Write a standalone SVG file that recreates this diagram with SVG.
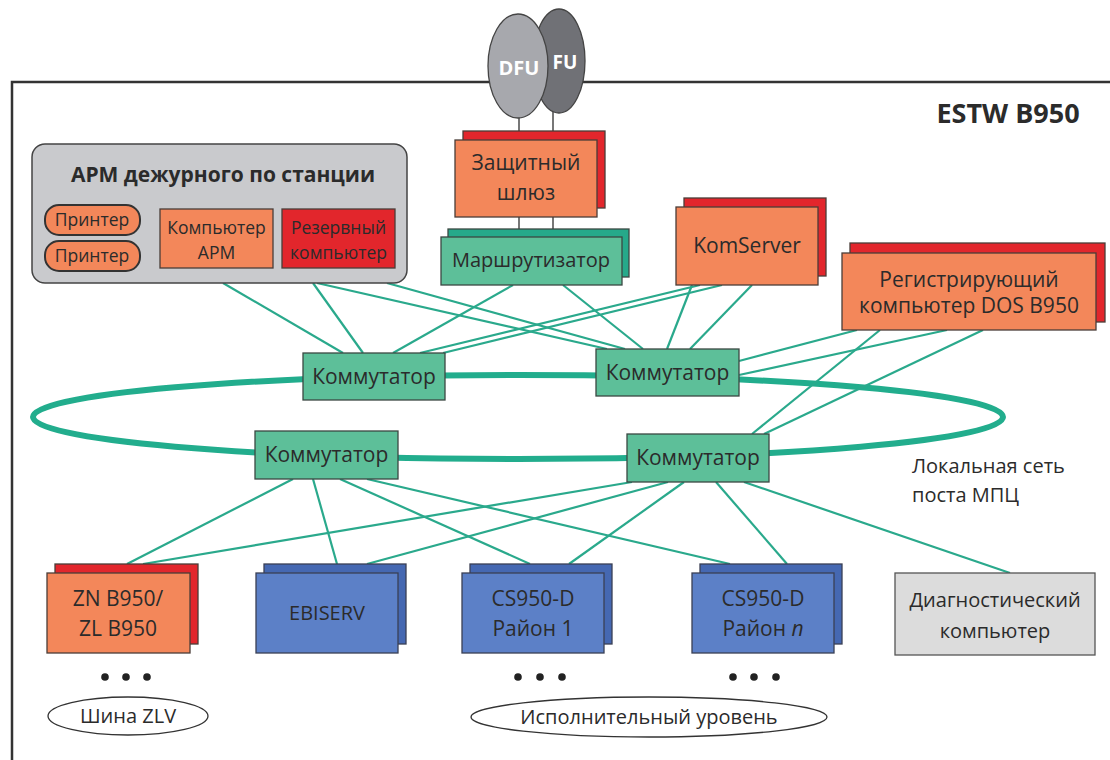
<svg xmlns="http://www.w3.org/2000/svg" width="1110" height="760" viewBox="0 0 1110 760">
<style>
text{font-family:"Open Sans","Liberation Sans",sans-serif;fill:#2b2b2b;text-anchor:middle}
.b{font-weight:bold}
.or{fill:#f3875a;stroke:#4a3d38;stroke-width:1.3}
.pl{fill:#f3875a;stroke:#333;stroke-width:2}
.rd{fill:#e2262c;stroke:#4a3d38;stroke-width:1.3}
.gr{fill:#5dbf99;stroke:#3b4843;stroke-width:1.3}
.grb{fill:#26a98a;stroke:#3b4843;stroke-width:1.3}
.bl{fill:#5c80c7;stroke:#3a3f55;stroke-width:1.3}
.blb{fill:#4568b2;stroke:#3a3f55;stroke-width:1.3}
.gy{fill:#dcdcdc;stroke:#555;stroke-width:1.3}
.ln{stroke:#2aa98c;stroke-width:2.2;fill:none}
.ring{stroke:#22ad8d;stroke-width:6;fill:none}
.dk{stroke:#555;stroke-width:2;fill:none}
.ov{fill:#fff;stroke:#333;stroke-width:1.3}
.s17{font-size:17.5px}
.s20{font-size:20px}
.s21{font-size:21px}
.s22{font-size:22px}
.dt{fill:#222}
</style>
<rect width="1110" height="760" fill="#fff"/>
<path d="M12,760 V82 H1110" fill="none" stroke="#333" stroke-width="2.5"/>
<text x="1008" y="123" class="b" style="font-size:27px">ESTW B950</text>

<g id="connectors">
<ellipse class="ring" cx="518" cy="417" rx="485" ry="42"/>
<line class="dk" x1="140" y1="220" x2="161" y2="220"/>
<line class="dk" x1="140" y1="256" x2="161" y2="256"/>
<line class="dk" x1="519" y1="100" x2="519" y2="232" style="stroke-width:1.6"/>
<line class="dk" x1="553" y1="100" x2="553" y2="232" style="stroke-width:1.6"/>
<line class="ln" x1="223" y1="283" x2="343" y2="353"/>
<line class="ln" x1="313" y1="283" x2="363" y2="353"/>
<line class="ln" x1="317" y1="283" x2="607" y2="349"/>
<line class="ln" x1="387" y1="283" x2="625" y2="349"/>
<line class="ln" x1="513" y1="285" x2="393" y2="353"/>
<line class="ln" x1="563" y1="285" x2="643" y2="349"/>
<line class="ln" x1="700" y1="285" x2="420" y2="353"/>
<line class="ln" x1="722" y1="285" x2="443" y2="353"/>
<line class="ln" x1="692" y1="285" x2="667" y2="349"/>
<line class="ln" x1="752" y1="285" x2="690" y2="349"/>
<line class="ln" x1="857" y1="330" x2="739" y2="361"/>
<line class="ln" x1="947" y1="330" x2="739" y2="375"/>
<line class="ln" x1="880" y1="330" x2="752" y2="434"/>
<line class="ln" x1="983" y1="330" x2="764" y2="434"/>
<line class="ln" x1="293" y1="479" x2="127" y2="564"/>
<line class="ln" x1="632" y1="482" x2="143" y2="564"/>
<line class="ln" x1="313" y1="479" x2="337" y2="564"/>
<line class="ln" x1="668" y1="482" x2="367" y2="564"/>
<line class="ln" x1="340" y1="479" x2="530" y2="564"/>
<line class="ln" x1="684" y1="482" x2="569" y2="564"/>
<line class="ln" x1="367" y1="479" x2="730" y2="564"/>
<line class="ln" x1="716" y1="482" x2="787" y2="564"/>
<line class="ln" x1="744" y1="482" x2="1010" y2="573"/>
</g>

<g id="dfu-fu">
<ellipse cx="559" cy="61" rx="26" ry="52" fill="#707176" stroke="#444" stroke-width="1.3"/>
<ellipse cx="518" cy="66" rx="30" ry="52" fill="#a7a8ad" stroke="#444" stroke-width="1.3"/>
<text x="519" y="75" class="b" style="fill:#fff;font-size:20px">DFU</text>
<text x="565" y="69" class="b" style="fill:#fff;font-size:19px">FU</text>
</g>

<g id="arm">
<rect x="32" y="144" width="375" height="139" rx="13" fill="#c9cacd" stroke="#444" stroke-width="1.5"/>
<text x="223" y="182" class="b s21">АРМ дежурного по станции</text>
</g>
<g id="printer1">
<rect x="45" y="205" width="95" height="30" rx="14" class="pl"/>
<text x="92" y="226" class="s17">Принтер</text>
</g>
<g id="printer2">
<rect x="45" y="241" width="95" height="30" rx="14" class="pl"/>
<text x="92" y="262" class="s17">Принтер</text>
</g>
<g id="pc-arm">
<rect x="160" y="209" width="113" height="59" class="or"/>
<text x="216.5" y="234" class="s17">Компьютер</text>
<text x="216.5" y="259" class="s17">АРМ</text>
</g>
<g id="pc-reserve">
<rect x="282" y="209" width="113" height="59" class="rd"/>
<text x="338.5" y="234" class="s17">Резервный</text>
<text x="338.5" y="259" class="s17">компьютер</text>
</g>

<g id="gateway">
<rect x="463" y="131" width="142" height="77" class="rd"/>
<rect x="455" y="140" width="142" height="77" class="or"/>
<text x="526" y="170" class="s21">Защитный</text>
<text x="526" y="200" class="s21">шлюз</text>
</g>
<g id="router">
<rect x="448" y="229" width="181" height="48" class="grb"/>
<rect x="441" y="237" width="181" height="48" class="gr"/>
<text x="531" y="267" class="s20">Маршрутизатор</text>
</g>
<g id="komserver">
<rect x="684" y="198" width="142" height="78" class="rd"/>
<rect x="676" y="207" width="142" height="78" class="or"/>
<text x="747" y="253" class="s21">KomServer</text>
</g>
<g id="dos">
<rect x="850" y="243" width="255" height="79" class="rd"/>
<rect x="842" y="253" width="254" height="77" class="or"/>
<text x="969" y="287" class="s21">Регистрирующий</text>
<text x="969" y="313" class="s21">компьютер DOS B950</text>
</g>

<g id="switch1">
<rect x="303" y="353" width="142" height="47" class="gr"/>
<text x="374" y="384" class="s21">Коммутатор</text>
</g>
<g id="switch2">
<rect x="596" y="349" width="143" height="47" class="gr"/>
<text x="667.5" y="380" class="s21">Коммутатор</text>
</g>
<g id="switch3">
<rect x="255" y="431" width="143" height="48" class="gr"/>
<text x="326.5" y="462" class="s21">Коммутатор</text>
</g>
<g id="switch4">
<rect x="627" y="434" width="142" height="48" class="gr"/>
<text x="698" y="465" class="s21">Коммутатор</text>
</g>

<text x="912" y="473" class="s20" style="text-anchor:start">Локальная сеть</text>
<text x="912" y="502" class="s20" style="text-anchor:start">поста МПЦ</text>

<g id="zn">
<rect x="55" y="564" width="143" height="80" class="rd"/>
<rect x="47" y="573" width="143" height="80" class="or"/>
<text x="118" y="606" class="s21">ZN B950/</text>
<text x="118" y="636" class="s21">ZL B950</text>
</g>
<g id="ebiserv">
<rect x="264" y="564" width="142" height="80" class="blb"/>
<rect x="256" y="573" width="142" height="80" class="bl"/>
<text x="327" y="620" class="s20">EBISERV</text>
</g>
<g id="cs1">
<rect x="470" y="564" width="142" height="80" class="blb"/>
<rect x="462" y="573" width="142" height="80" class="bl"/>
<text x="533" y="606" class="s21">CS950-D</text>
<text x="533" y="636" class="s21">Район 1</text>
</g>
<g id="csn">
<rect x="700" y="564" width="142" height="80" class="blb"/>
<rect x="692" y="573" width="142" height="80" class="bl"/>
<text x="763" y="606" class="s21">CS950-D</text>
<text x="763" y="636" class="s21">Район <tspan font-style="italic">n</tspan></text>
</g>
<g id="diag">
<rect x="895" y="573" width="200" height="82" class="gy"/>
<text x="995" y="607" class="s20">Диагностический</text>
<text x="995" y="638" class="s20">компьютер</text>
</g>

<g id="dots">
<circle class="dt" cx="105" cy="677" r="3.8"/>
<circle class="dt" cx="126" cy="677" r="3.8"/>
<circle class="dt" cx="147" cy="677" r="3.8"/>
<circle class="dt" cx="518" cy="677" r="3.8"/>
<circle class="dt" cx="540" cy="677" r="3.8"/>
<circle class="dt" cx="562" cy="677" r="3.8"/>
<circle class="dt" cx="733" cy="677" r="3.8"/>
<circle class="dt" cx="754" cy="677" r="3.8"/>
<circle class="dt" cx="776" cy="677" r="3.8"/>
</g>
<g id="bus-zlv">
<ellipse class="ov" cx="128" cy="716" rx="80" ry="19"/>
<text x="128" y="723" class="s20">Шина ZLV</text>
</g>
<g id="exec-level">
<ellipse class="ov" cx="649" cy="717" rx="178" ry="20"/>
<text x="649" y="724" class="s20">Исполнительный уровень</text>
</g>
</svg>
